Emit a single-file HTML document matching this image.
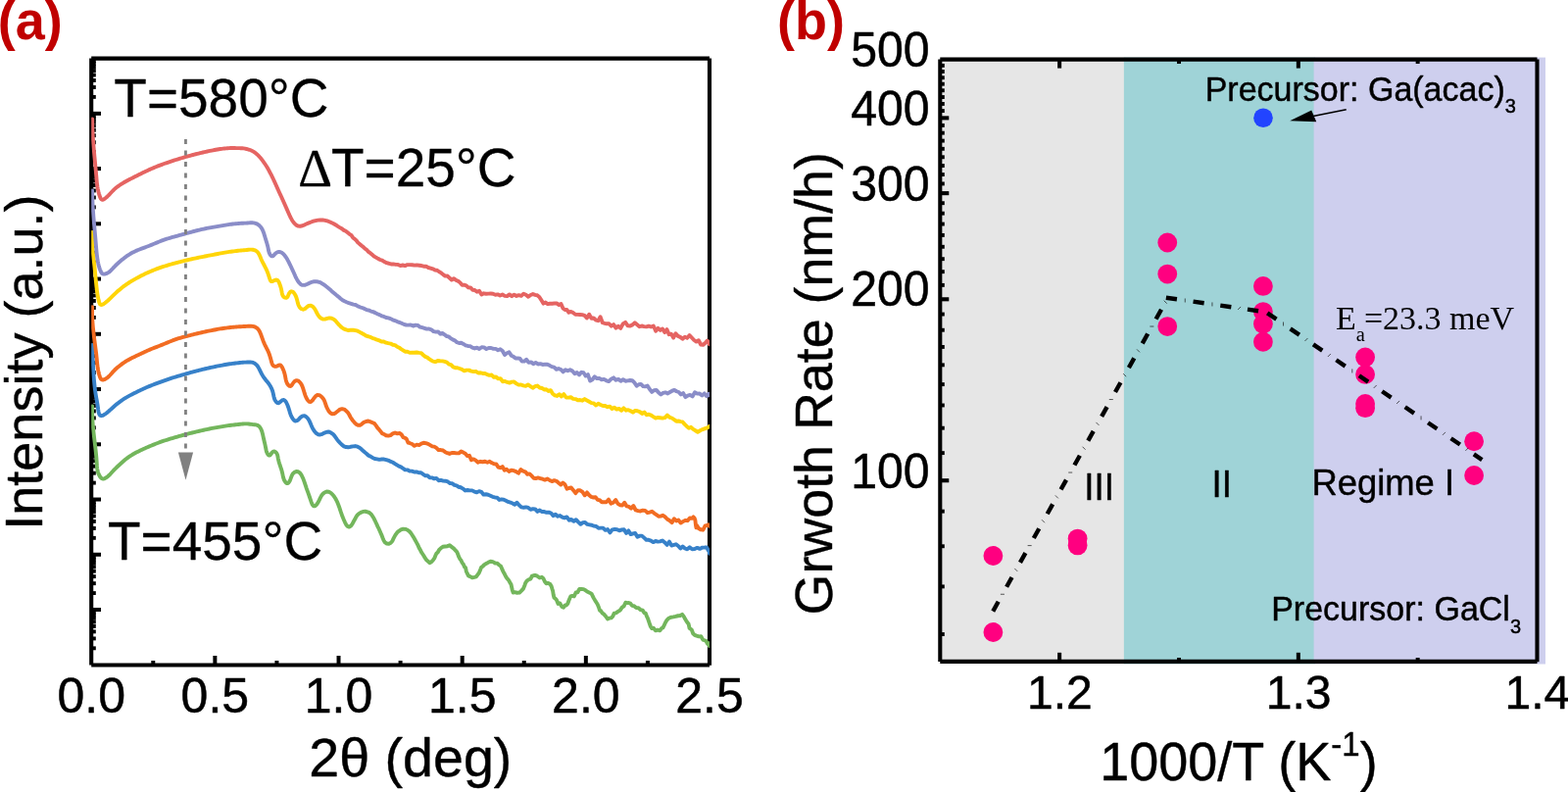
<!DOCTYPE html>
<html lang="en">
<head>
<meta charset="utf-8">
<title>Figure: XRR curves and growth rate</title>
<style>
html,body{margin:0;padding:0;background:#fff;}
body{width:1600px;height:808px;overflow:hidden;}
svg{display:block;}
</style>
</head>
<body>
<svg width="1600" height="808" viewBox="0 0 1600 808">
<rect x="0" y="0" width="1600" height="808" fill="#ffffff"/>
<g id="plot-a">
<path d="M93.2,59.6 H724 M93.2,678.5 H724 M93.2,59.6 V678.5 M724,59.6 V678.8" fill="none" stroke="#000" stroke-width="4.1"/>
<line x1="93.2" y1="661.32" x2="97.8" y2="661.32" stroke="#000" stroke-width="3.9" />
<line x1="93.2" y1="651.42" x2="97.8" y2="651.42" stroke="#000" stroke-width="3.9" />
<line x1="93.2" y1="644.39" x2="97.8" y2="644.39" stroke="#000" stroke-width="3.9" />
<line x1="93.2" y1="638.94" x2="97.8" y2="638.94" stroke="#000" stroke-width="3.9" />
<line x1="93.2" y1="634.49" x2="97.8" y2="634.49" stroke="#000" stroke-width="3.9" />
<line x1="93.2" y1="630.72" x2="97.8" y2="630.72" stroke="#000" stroke-width="3.9" />
<line x1="93.2" y1="627.46" x2="97.8" y2="627.46" stroke="#000" stroke-width="3.9" />
<line x1="93.2" y1="624.58" x2="97.8" y2="624.58" stroke="#000" stroke-width="3.9" />
<line x1="93.2" y1="622.01" x2="103" y2="622.01" stroke="#000" stroke-width="4" />
<line x1="93.2" y1="605.08" x2="97.8" y2="605.08" stroke="#000" stroke-width="3.9" />
<line x1="93.2" y1="595.18" x2="97.8" y2="595.18" stroke="#000" stroke-width="3.9" />
<line x1="93.2" y1="588.15" x2="97.8" y2="588.15" stroke="#000" stroke-width="3.9" />
<line x1="93.2" y1="582.7" x2="97.8" y2="582.7" stroke="#000" stroke-width="3.9" />
<line x1="93.2" y1="578.25" x2="97.8" y2="578.25" stroke="#000" stroke-width="3.9" />
<line x1="93.2" y1="574.48" x2="97.8" y2="574.48" stroke="#000" stroke-width="3.9" />
<line x1="93.2" y1="571.22" x2="97.8" y2="571.22" stroke="#000" stroke-width="3.9" />
<line x1="93.2" y1="568.34" x2="97.8" y2="568.34" stroke="#000" stroke-width="3.9" />
<line x1="93.2" y1="565.77" x2="103" y2="565.77" stroke="#000" stroke-width="4" />
<line x1="93.2" y1="548.84" x2="97.8" y2="548.84" stroke="#000" stroke-width="3.9" />
<line x1="93.2" y1="538.93" x2="97.8" y2="538.93" stroke="#000" stroke-width="3.9" />
<line x1="93.2" y1="531.91" x2="97.8" y2="531.91" stroke="#000" stroke-width="3.9" />
<line x1="93.2" y1="526.46" x2="97.8" y2="526.46" stroke="#000" stroke-width="3.9" />
<line x1="93.2" y1="522" x2="97.8" y2="522" stroke="#000" stroke-width="3.9" />
<line x1="93.2" y1="518.24" x2="97.8" y2="518.24" stroke="#000" stroke-width="3.9" />
<line x1="93.2" y1="514.98" x2="97.8" y2="514.98" stroke="#000" stroke-width="3.9" />
<line x1="93.2" y1="512.1" x2="97.8" y2="512.1" stroke="#000" stroke-width="3.9" />
<line x1="93.2" y1="509.53" x2="103" y2="509.53" stroke="#000" stroke-width="4" />
<line x1="93.2" y1="492.6" x2="97.8" y2="492.6" stroke="#000" stroke-width="3.9" />
<line x1="93.2" y1="482.69" x2="97.8" y2="482.69" stroke="#000" stroke-width="3.9" />
<line x1="93.2" y1="475.67" x2="97.8" y2="475.67" stroke="#000" stroke-width="3.9" />
<line x1="93.2" y1="470.22" x2="97.8" y2="470.22" stroke="#000" stroke-width="3.9" />
<line x1="93.2" y1="465.76" x2="97.8" y2="465.76" stroke="#000" stroke-width="3.9" />
<line x1="93.2" y1="462" x2="97.8" y2="462" stroke="#000" stroke-width="3.9" />
<line x1="93.2" y1="458.74" x2="97.8" y2="458.74" stroke="#000" stroke-width="3.9" />
<line x1="93.2" y1="455.86" x2="97.8" y2="455.86" stroke="#000" stroke-width="3.9" />
<line x1="93.2" y1="453.29" x2="103" y2="453.29" stroke="#000" stroke-width="4" />
<line x1="93.2" y1="436.36" x2="97.8" y2="436.36" stroke="#000" stroke-width="3.9" />
<line x1="93.2" y1="426.45" x2="97.8" y2="426.45" stroke="#000" stroke-width="3.9" />
<line x1="93.2" y1="419.43" x2="97.8" y2="419.43" stroke="#000" stroke-width="3.9" />
<line x1="93.2" y1="413.98" x2="97.8" y2="413.98" stroke="#000" stroke-width="3.9" />
<line x1="93.2" y1="409.52" x2="97.8" y2="409.52" stroke="#000" stroke-width="3.9" />
<line x1="93.2" y1="405.76" x2="97.8" y2="405.76" stroke="#000" stroke-width="3.9" />
<line x1="93.2" y1="402.5" x2="97.8" y2="402.5" stroke="#000" stroke-width="3.9" />
<line x1="93.2" y1="399.62" x2="97.8" y2="399.62" stroke="#000" stroke-width="3.9" />
<line x1="93.2" y1="397.05" x2="103" y2="397.05" stroke="#000" stroke-width="4" />
<line x1="93.2" y1="380.12" x2="97.8" y2="380.12" stroke="#000" stroke-width="3.9" />
<line x1="93.2" y1="370.21" x2="97.8" y2="370.21" stroke="#000" stroke-width="3.9" />
<line x1="93.2" y1="363.19" x2="97.8" y2="363.19" stroke="#000" stroke-width="3.9" />
<line x1="93.2" y1="357.73" x2="97.8" y2="357.73" stroke="#000" stroke-width="3.9" />
<line x1="93.2" y1="353.28" x2="97.8" y2="353.28" stroke="#000" stroke-width="3.9" />
<line x1="93.2" y1="349.52" x2="97.8" y2="349.52" stroke="#000" stroke-width="3.9" />
<line x1="93.2" y1="346.25" x2="97.8" y2="346.25" stroke="#000" stroke-width="3.9" />
<line x1="93.2" y1="343.38" x2="97.8" y2="343.38" stroke="#000" stroke-width="3.9" />
<line x1="93.2" y1="340.8" x2="103" y2="340.8" stroke="#000" stroke-width="4" />
<line x1="93.2" y1="323.87" x2="97.8" y2="323.87" stroke="#000" stroke-width="3.9" />
<line x1="93.2" y1="313.97" x2="97.8" y2="313.97" stroke="#000" stroke-width="3.9" />
<line x1="93.2" y1="306.94" x2="97.8" y2="306.94" stroke="#000" stroke-width="3.9" />
<line x1="93.2" y1="301.49" x2="97.8" y2="301.49" stroke="#000" stroke-width="3.9" />
<line x1="93.2" y1="297.04" x2="97.8" y2="297.04" stroke="#000" stroke-width="3.9" />
<line x1="93.2" y1="293.28" x2="97.8" y2="293.28" stroke="#000" stroke-width="3.9" />
<line x1="93.2" y1="290.01" x2="97.8" y2="290.01" stroke="#000" stroke-width="3.9" />
<line x1="93.2" y1="287.14" x2="97.8" y2="287.14" stroke="#000" stroke-width="3.9" />
<line x1="93.2" y1="284.56" x2="103" y2="284.56" stroke="#000" stroke-width="4" />
<line x1="93.2" y1="267.63" x2="97.8" y2="267.63" stroke="#000" stroke-width="3.9" />
<line x1="93.2" y1="257.73" x2="97.8" y2="257.73" stroke="#000" stroke-width="3.9" />
<line x1="93.2" y1="250.7" x2="97.8" y2="250.7" stroke="#000" stroke-width="3.9" />
<line x1="93.2" y1="245.25" x2="97.8" y2="245.25" stroke="#000" stroke-width="3.9" />
<line x1="93.2" y1="240.8" x2="97.8" y2="240.8" stroke="#000" stroke-width="3.9" />
<line x1="93.2" y1="237.03" x2="97.8" y2="237.03" stroke="#000" stroke-width="3.9" />
<line x1="93.2" y1="233.77" x2="97.8" y2="233.77" stroke="#000" stroke-width="3.9" />
<line x1="93.2" y1="230.9" x2="97.8" y2="230.9" stroke="#000" stroke-width="3.9" />
<line x1="93.2" y1="228.32" x2="103" y2="228.32" stroke="#000" stroke-width="4" />
<line x1="93.2" y1="211.39" x2="97.8" y2="211.39" stroke="#000" stroke-width="3.9" />
<line x1="93.2" y1="201.49" x2="97.8" y2="201.49" stroke="#000" stroke-width="3.9" />
<line x1="93.2" y1="194.46" x2="97.8" y2="194.46" stroke="#000" stroke-width="3.9" />
<line x1="93.2" y1="189.01" x2="97.8" y2="189.01" stroke="#000" stroke-width="3.9" />
<line x1="93.2" y1="184.56" x2="97.8" y2="184.56" stroke="#000" stroke-width="3.9" />
<line x1="93.2" y1="180.79" x2="97.8" y2="180.79" stroke="#000" stroke-width="3.9" />
<line x1="93.2" y1="177.53" x2="97.8" y2="177.53" stroke="#000" stroke-width="3.9" />
<line x1="93.2" y1="174.66" x2="97.8" y2="174.66" stroke="#000" stroke-width="3.9" />
<line x1="93.2" y1="172.08" x2="103" y2="172.08" stroke="#000" stroke-width="4" />
<line x1="93.2" y1="155.15" x2="97.8" y2="155.15" stroke="#000" stroke-width="3.9" />
<line x1="93.2" y1="145.25" x2="97.8" y2="145.25" stroke="#000" stroke-width="3.9" />
<line x1="93.2" y1="138.22" x2="97.8" y2="138.22" stroke="#000" stroke-width="3.9" />
<line x1="93.2" y1="132.77" x2="97.8" y2="132.77" stroke="#000" stroke-width="3.9" />
<line x1="93.2" y1="128.32" x2="97.8" y2="128.32" stroke="#000" stroke-width="3.9" />
<line x1="93.2" y1="124.55" x2="97.8" y2="124.55" stroke="#000" stroke-width="3.9" />
<line x1="93.2" y1="121.29" x2="97.8" y2="121.29" stroke="#000" stroke-width="3.9" />
<line x1="93.2" y1="118.41" x2="97.8" y2="118.41" stroke="#000" stroke-width="3.9" />
<line x1="93.2" y1="115.84" x2="103" y2="115.84" stroke="#000" stroke-width="4" />
<line x1="93.2" y1="98.91" x2="97.8" y2="98.91" stroke="#000" stroke-width="3.9" />
<line x1="93.2" y1="89.01" x2="97.8" y2="89.01" stroke="#000" stroke-width="3.9" />
<line x1="93.2" y1="81.98" x2="97.8" y2="81.98" stroke="#000" stroke-width="3.9" />
<line x1="93.2" y1="76.53" x2="97.8" y2="76.53" stroke="#000" stroke-width="3.9" />
<line x1="93.2" y1="72.08" x2="97.8" y2="72.08" stroke="#000" stroke-width="3.9" />
<line x1="93.2" y1="68.31" x2="97.8" y2="68.31" stroke="#000" stroke-width="3.9" />
<line x1="93.2" y1="65.05" x2="97.8" y2="65.05" stroke="#000" stroke-width="3.9" />
<line x1="93.2" y1="62.17" x2="97.8" y2="62.17" stroke="#000" stroke-width="3.9" />
<line x1="156.28" y1="678.25" x2="156.28" y2="674" stroke="#000" stroke-width="4" />
<line x1="219.36" y1="678.25" x2="219.36" y2="669" stroke="#000" stroke-width="4" />
<line x1="282.44" y1="678.25" x2="282.44" y2="674" stroke="#000" stroke-width="4" />
<line x1="345.52" y1="678.25" x2="345.52" y2="669" stroke="#000" stroke-width="4" />
<line x1="408.6" y1="678.25" x2="408.6" y2="674" stroke="#000" stroke-width="4" />
<line x1="471.68" y1="678.25" x2="471.68" y2="669" stroke="#000" stroke-width="4" />
<line x1="534.76" y1="678.25" x2="534.76" y2="674" stroke="#000" stroke-width="4" />
<line x1="597.84" y1="678.25" x2="597.84" y2="669" stroke="#000" stroke-width="4" />
<line x1="660.92" y1="678.25" x2="660.92" y2="674" stroke="#000" stroke-width="4" />
<clipPath id="clipA"><rect x="93.2" y="59.6" width="630.8" height="618.65"/></clipPath>
<g clip-path="url(#clipA)">
<path d="M94.2,414.5 L94.15,415.98 L94.11,417.47 L94.09,418.96 L94.09,420.45 L94.11,421.94 L94.14,423.44 L94.19,424.94 L94.26,426.44 L94.34,427.94 L94.43,429.45 L94.53,430.95 L94.65,432.46 L94.77,433.96 L94.91,435.47 L95.05,436.98 L95.2,438.49 L95.36,440 L95.52,441.5 L95.69,443.01 L95.87,444.52 L96.04,446.03 L96.22,447.53 L96.4,449.04 L96.58,450.54 L96.76,452.04 L96.94,453.54 L97.12,455.04 L97.29,456.54 L97.46,458.03 L97.63,459.52 L97.79,461.01 L97.94,462.49 L98.09,463.97 L98.23,465.45 L98.36,466.93 L98.48,468.4 L98.58,469.86 L98.68,471.33 L98.76,472.78 L98.85,474.24 L98.94,475.69 L99.07,477.15 L99.26,478.61 L99.53,480.07 L99.91,481.55 L100.41,483.04 L101.06,484.54 L101.88,486.01 L102.86,487.32 L103.98,488.24 L105.24,488.58 L106.57,488.29 L107.91,487.59 L109.18,486.7 L110.33,485.76 L111.38,484.79 L112.36,483.8 L113.3,482.79 L114.22,481.74 L115.17,480.69 L116.15,479.62 L117.17,478.56 L118.23,477.52 L119.3,476.49 L120.4,475.47 L121.5,474.45 L122.61,473.44 L123.71,472.44 L124.82,471.45 L125.93,470.48 L127.06,469.53 L128.2,468.6 L129.36,467.69 L130.55,466.81 L131.76,465.95 L133.01,465.12 L134.29,464.32 L135.59,463.54 L136.91,462.79 L138.24,462.06 L139.59,461.35 L140.94,460.66 L142.3,459.98 L143.66,459.33 L145.03,458.68 L146.4,458.05 L147.77,457.43 L149.14,456.82 L150.52,456.22 L151.9,455.63 L153.28,455.04 L154.66,454.46 L156.04,453.9 L157.43,453.34 L158.82,452.78 L160.21,452.24 L161.61,451.71 L163.01,451.2 L164.42,450.69 L165.83,450.19 L167.26,449.71 L168.69,449.24 L170.12,448.78 L171.56,448.32 L173,447.88 L174.44,447.44 L175.88,447.01 L177.32,446.59 L178.77,446.17 L180.21,445.76 L181.65,445.35 L183.09,444.94 L184.54,444.54 L185.98,444.14 L187.43,443.75 L188.87,443.36 L190.32,442.98 L191.77,442.6 L193.23,442.22 L194.68,441.85 L196.14,441.49 L197.59,441.13 L199.05,440.77 L200.51,440.42 L201.97,440.08 L203.43,439.74 L204.89,439.4 L206.36,439.07 L207.82,438.75 L209.28,438.43 L210.75,438.11 L212.22,437.8 L213.69,437.5 L215.16,437.2 L216.63,436.91 L218.1,436.63 L219.58,436.35 L221.05,436.08 L222.53,435.82 L224.01,435.57 L225.49,435.32 L226.96,435.08 L228.44,434.84 L229.92,434.61 L231.41,434.39 L232.89,434.18 L234.37,433.98 L235.86,433.79 L237.35,433.61 L238.84,433.44 L240.34,433.28 L241.83,433.13 L243.34,432.96 L244.84,432.78 L246.34,432.6 L247.84,432.44 L249.34,432.34 L250.83,432.34 L252.31,432.4 L253.79,432.53 L255.27,432.69 L256.76,432.89 L258.26,433.1 L259.77,433.24 L261.24,433.41 L262.61,433.77 L263.8,434.44 L264.82,435.42 L265.68,436.61 L266.39,437.94 L266.97,439.32 L267.44,440.73 L267.84,442.17 L268.18,443.62 L268.5,445.07 L268.82,446.54 L269.15,448 L269.49,449.47 L269.83,450.94 L270.18,452.41 L270.51,453.88 L270.82,455.34 L271.11,456.79 L271.38,458.24 L271.68,459.67 L272.08,461.1 L272.68,462.51 L273.54,463.82 L274.6,464.59 L275.66,464.28 L276.64,463.05 L277.62,461.61 L278.72,460.65 L279.98,460.51 L281.24,461.15 L282.25,462.26 L282.91,463.59 L283.32,465.05 L283.6,466.57 L283.88,468.1 L284.2,469.6 L284.58,471.08 L285.01,472.53 L285.47,473.96 L285.94,475.37 L286.42,476.79 L286.89,478.2 L287.33,479.61 L287.73,481.04 L288.08,482.48 L288.38,483.95 L288.67,485.41 L288.99,486.88 L289.4,488.32 L289.96,489.72 L290.71,491.08 L291.67,492.29 L292.76,493.05 L293.82,493 L294.78,492.12 L295.63,490.65 L296.37,488.9 L297.04,487.12 L297.67,485.51 L298.33,484.12 L299.12,482.93 L300.35,481.85 L302.25,481.05 L304.37,481.2 L306.17,482.58 L307.6,484.71 L308.76,487.04 L309.73,489.36 L310.57,491.64 L311.31,493.84 L312.01,495.97 L312.71,498.1 L313.43,500.12 L314.18,502.21 L314.98,504.4 L315.81,506.76 L316.7,509.4 L317.64,512.18 L318.7,514.68 L319.95,516.22 L321.43,516.25 L323.02,514.83 L324.54,512.63 L325.8,510.14 L326.87,507.89 L327.95,505.81 L329.31,504.08 L331.11,502.49 L333.28,501.56 L335.52,501.74 L337.6,502.91 L339.42,504.65 L340.97,506.57 L342.27,508.52 L343.39,510.68 L344.38,512.68 L345.29,514.95 L346.13,517.2 L346.92,519.6 L347.68,521.93 L348.44,524.07 L349.2,526.26 L350.02,528.33 L350.93,530.48 L351.97,532.76 L353.2,535.2 L354.64,537.02 L356.28,537.62 L358.01,536.57 L359.62,534.33 L360.97,531.77 L362.11,529.76 L363.22,527.54 L364.5,525.73 L366.12,524.11 L368.12,522.89 L370.39,521.93 L372.77,521.75 L375.07,522.37 L377.12,523.17 L378.87,524.68 L380.36,527.09 L381.63,529.05 L382.73,531.27 L383.72,533.45 L384.67,535.43 L385.62,537.62 L386.6,539.39 L387.59,541.76 L388.57,543.99 L389.54,546.14 L390.49,548.74 L391.54,551.3 L392.86,553.43 L394.63,554.53 L396.77,554.87 L398.8,553.77 L400.36,552.04 L401.52,549.39 L402.58,547.38 L403.77,545.35 L405.22,543.32 L406.99,541.82 L409.09,540.39 L411.39,539.61 L413.71,539.82 L415.87,540.71 L417.77,542.11 L419.4,544 L420.81,546.21 L422.06,548.13 L423.24,550.3 L424.39,552.38 L425.52,554.41 L426.63,556.45 L427.73,559.16 L428.81,560.83 L429.88,563.08 L430.96,564.73 L432.11,566.52 L433.4,568.62 L434.91,570.96 L436.65,572.6 L438.47,574.15 L440.23,573.29 L441.81,571.45 L443.18,569.68 L444.38,566.67 L445.5,564.44 L446.69,563.45 L448.09,560.96 L449.81,559.28 L451.85,557.8 L454.12,557.5 L456.5,557.2 L458.86,556.33 L461.09,558.12 L463.08,559.65 L464.74,561.5 L466.09,562.79 L467.22,565.37 L468.25,568.22 L469.28,570.2 L470.4,571.52 L471.63,574.1 L472.89,575.73 L474.05,578.44 L475.04,579.16 L475.86,582.98 L476.72,584.99 L477.92,587.37 L479.68,588.09 L481.87,589.37 L484.05,588.91 L485.9,588.4 L487.39,586.33 L488.67,584.81 L489.87,582.06 L491.13,578.67 L492.52,577.91 L494.15,576.09 L496.04,575.03 L498.17,573.84 L500.48,572.73 L502.86,573.16 L505.22,574.53 L507.43,574.67 L509.41,576.5 L511.05,577.59 L512.34,580.67 L513.35,582.88 L514.24,584.59 L515.2,586.27 L516.37,588.55 L517.79,590.57 L519.29,592.34 L520.6,594.73 L521.53,596.25 L522.13,599.05 L522.71,601.76 L523.67,604.56 L525.31,604.2 L527.58,604.76 L530.09,604.58 L532.34,602.38 L533.95,600.63 L534.86,598.46 L535.43,597.26 L536.15,594.82 L537.48,592.78 L539.45,591.24 L541.41,590.58 L542.88,587.64 L544.2,587.25 L545.96,586.83 L548.23,587.69 L550.66,589.5 L552.83,588.82 L554.49,590.24 L555.86,593.22 L557.49,595.29 L559.51,594.94 L561.38,595.98 L562.69,598.32 L563.52,601.17 L564.11,602.89 L564.69,606.68 L565.45,609.86 L566.51,610.44 L567.88,612.08 L569.51,615.91 L571.34,615.45 L573.25,618.9 L575.07,619.69 L576.66,617.47 L578.04,617.45 L579.34,615.72 L580.71,611.95 L582.26,608.46 L583.99,607.9 L585.82,608.41 L587.62,604.53 L589.39,604.3 L591.22,601.07 L593.26,601.04 L595.53,601.17 L597.89,602.52 L600.15,604.01 L602.11,604.91 L603.68,605.83 L604.93,608.5 L606.06,610.62 L607.23,612.6 L608.47,614.54 L609.7,616.46 L610.86,619.24 L611.97,622.77 L613.13,623.14 L614.43,625.28 L615.99,626.36 L617.86,628.44 L619.98,631.51 L622.02,630.59 L623.75,630.39 L625.22,628.88 L626.72,625.66 L628.51,625.37 L630.6,623.92 L632.76,622.55 L634.78,619.63 L636.63,618.33 L638.34,614.76 L639.97,615.11 L641.59,614.99 L643.25,615.57 L645.03,617.92 L647,618.25 L649.19,620.09 L651.51,620.26 L653.75,622.17 L655.76,622.67 L657.44,625.27 L658.82,625.7 L659.99,628.91 L661,630.87 L661.93,633.58 L662.86,636.36 L663.9,639.26 L665.18,641.13 L666.85,640.68 L668.95,643.37 L671.22,642.66 L673.3,643.31 L674.98,641.04 L676.35,640.49 L677.61,638.05 L678.94,635.25 L680.53,632.58 L682.44,630.71 L684.64,629.7 L687.01,629.38 L689.45,628.9 L691.84,628.25 L694.08,627.96 L696.07,626.85 L697.74,628.87 L699.15,631.59 L700.37,633.55 L701.49,635.21 L702.55,636.41 L703.59,640.95 L704.67,641.63 L705.83,642.59 L707.18,646.25 L708.83,647.84 L710.86,648.6 L713.13,649.34 L715.33,649.26 L717.23,652.62 L718.86,653.28 L720.4,653.82 L722.02,656.96 L723.39,656.29 L724,659" fill="none" stroke="#73b65c" stroke-width="3.9" stroke-linejoin="round" stroke-linecap="round"/>
<path d="M94.2,352 L94.25,353.4 L94.3,354.82 L94.35,356.25 L94.4,357.71 L94.45,359.17 L94.5,360.66 L94.55,362.15 L94.61,363.66 L94.67,365.18 L94.73,366.71 L94.79,368.25 L94.85,369.8 L94.92,371.35 L95,372.9 L95.07,374.46 L95.16,376.02 L95.24,377.59 L95.33,379.15 L95.43,380.71 L95.53,382.26 L95.64,383.82 L95.76,385.36 L95.88,386.9 L96.01,388.44 L96.15,389.96 L96.29,391.47 L96.44,392.97 L96.61,394.46 L96.78,395.93 L96.95,397.39 L97.14,398.83 L97.34,400.25 L97.55,401.66 L97.77,403.04 L98,404.4 L98.24,405.74 L98.49,407.07 L98.74,408.42 L99,409.8 L99.25,411.25 L99.51,412.78 L99.75,414.42 L99.99,416.19 L100.23,418.06 L100.52,419.92 L100.91,421.63 L101.48,423.02 L102.27,423.93 L103.34,424.23 L104.64,423.91 L106.03,423.19 L107.36,422.33 L108.58,421.47 L109.69,420.6 L110.74,419.72 L111.76,418.81 L112.78,417.9 L113.83,416.96 L114.9,416 L115.99,415.01 L117.1,414.02 L118.23,413.06 L119.37,412.12 L120.52,411.22 L121.68,410.33 L122.86,409.45 L124.06,408.58 L125.29,407.73 L126.53,406.91 L127.81,406.11 L129.11,405.33 L130.43,404.58 L131.77,403.85 L133.12,403.13 L134.48,402.43 L135.84,401.74 L137.2,401.06 L138.55,400.39 L139.89,399.72 L141.22,399.07 L142.56,398.42 L143.89,397.78 L145.24,397.15 L146.59,396.53 L147.96,395.92 L149.33,395.32 L150.72,394.73 L152.11,394.16 L153.51,393.59 L154.92,393.03 L156.32,392.48 L157.73,391.93 L159.14,391.39 L160.54,390.86 L161.95,390.34 L163.35,389.82 L164.75,389.3 L166.16,388.8 L167.57,388.3 L168.98,387.8 L170.39,387.32 L171.81,386.84 L173.24,386.37 L174.66,385.9 L176.1,385.45 L177.53,385 L178.97,384.56 L180.41,384.13 L181.85,383.7 L183.29,383.27 L184.74,382.85 L186.18,382.43 L187.63,382.01 L189.07,381.6 L190.51,381.19 L191.95,380.78 L193.39,380.37 L194.84,379.97 L196.28,379.57 L197.72,379.17 L199.16,378.78 L200.61,378.4 L202.06,378.02 L203.51,377.65 L204.97,377.28 L206.42,376.92 L207.88,376.57 L209.35,376.23 L210.81,375.89 L212.27,375.56 L213.74,375.24 L215.21,374.92 L216.67,374.61 L218.14,374.3 L219.61,374 L221.08,373.7 L222.55,373.41 L224.02,373.12 L225.5,372.84 L226.97,372.56 L228.45,372.29 L229.93,372.03 L231.41,371.77 L232.89,371.53 L234.37,371.3 L235.85,371.08 L237.33,370.88 L238.81,370.7 L240.28,370.53 L241.76,370.37 L243.23,370.2 L244.71,370.05 L246.2,369.9 L247.69,369.77 L249.2,369.66 L250.72,369.58 L252.26,369.51 L253.81,369.46 L255.35,369.48 L256.85,369.63 L258.27,369.98 L259.59,370.55 L260.78,371.34 L261.83,372.31 L262.74,373.41 L263.53,374.59 L264.22,375.83 L264.86,377.12 L265.47,378.42 L266.09,379.72 L266.76,381.01 L267.48,382.29 L268.26,383.57 L269.09,384.83 L269.97,386.05 L270.88,387.24 L271.82,388.41 L272.77,389.57 L273.7,390.75 L274.6,391.95 L275.43,393.21 L276.2,394.51 L276.88,395.86 L277.49,397.25 L278.01,398.67 L278.44,400.1 L278.79,401.54 L279.08,402.98 L279.36,404.41 L279.71,405.85 L280.2,407.28 L280.89,408.71 L281.84,410.04 L282.96,411 L284.13,411.2 L285.3,410.55 L286.5,409.45 L287.79,408.44 L289.1,407.98 L290.3,408.3 L291.34,409.33 L292.22,410.75 L292.95,412.28 L293.58,413.77 L294.11,415.2 L294.58,416.59 L295,417.96 L295.4,419.31 L295.8,420.67 L296.24,422.04 L296.74,423.41 L297.34,424.78 L298.07,426.13 L298.96,427.47 L300.02,428.69 L301.38,429.48 L303.09,429.2 L304.94,427.66 L306.81,425.69 L308.76,424.37 L310.79,424.27 L312.75,425.44 L314.41,427.34 L315.66,429.4 L316.64,431.58 L317.53,433.74 L318.48,435.89 L319.6,438.03 L320.95,440.09 L322.57,441.95 L324.47,443.2 L326.62,443.46 L328.91,442.78 L331.2,441.6 L333.43,440.7 L335.67,440.49 L337.83,441.52 L339.74,442.81 L341.34,444.63 L342.76,446.63 L344.15,448.59 L345.63,450.45 L347.25,452.15 L349.02,453.89 L350.97,455.31 L353.1,456.04 L355.38,456.31 L357.77,455.78 L360.19,455.36 L362.56,455.06 L364.8,455.68 L366.88,456.77 L368.81,458.34 L370.62,460.04 L372.39,461.58 L374.17,463 L376.05,464.75 L378.05,465.65 L380.17,466.95 L382.41,468 L384.74,468.34 L387.13,468.82 L389.54,468.51 L391.94,468.57 L394.29,469.1 L396.57,469.82 L398.77,470.94 L400.9,471.76 L402.98,473.07 L405.03,474.41 L407.06,475.65 L409.11,476.4 L411.2,477.8 L413.37,479.42 L415.61,479.35 L417.93,480.52 L420.3,480.62 L422.68,481.52 L425.04,481.38 L427.36,482.28 L429.63,482.28 L431.86,483.89 L434.07,485.28 L436.27,485.24 L438.49,487.25 L440.73,487.34 L443,488.39 L445.29,487.92 L447.61,490.2 L449.95,489.91 L452.3,490.57 L454.66,490.74 L456.99,491.44 L459.28,493.15 L461.51,493.2 L463.69,494.9 L465.85,495.43 L468.01,496.75 L470.2,497.27 L472.44,498.59 L474.73,500.46 L477.06,499.99 L479.41,500.42 L481.78,500.34 L484.15,501.67 L486.51,502.39 L488.85,501.1 L491.19,501.86 L493.51,504.63 L495.82,504.25 L498.12,504.75 L500.4,505.76 L502.68,506.87 L504.95,507.46 L507.21,507.58 L509.47,509.98 L511.72,509.41 L513.97,509.64 L516.21,510.73 L518.46,511.9 L520.71,512.57 L522.96,513.54 L525.22,514.73 L527.49,512.75 L529.77,515.4 L532.07,517.44 L534.38,517.77 L536.7,517.34 L539.04,517.9 L541.4,519.84 L543.75,519.16 L546.11,519.38 L548.46,521.92 L550.8,520.53 L553.13,522.03 L555.44,522.03 L557.74,522.81 L560.02,522.62 L562.31,523.47 L564.59,526.17 L566.87,524.68 L569.15,526.75 L571.45,526.03 L573.75,527.6 L576.07,528.4 L578.4,527.38 L580.74,530.7 L583.08,529.89 L585.42,531.86 L587.76,530.17 L590.1,532.66 L592.42,534.78 L594.74,533.16 L597.05,532.92 L599.34,534.9 L601.62,535.33 L603.89,535.77 L606.16,536.69 L608.43,536.98 L610.72,538.82 L613.01,538.58 L615.33,538.62 L617.68,540.89 L620.05,540.1 L622.44,543.38 L624.85,540.31 L627.26,539.88 L629.67,540.17 L632.06,541.35 L634.43,540.44 L636.78,540.21 L639.1,543.92 L641.39,541.39 L643.67,545.14 L645.93,544.43 L648.19,543.95 L650.44,547.83 L652.7,546.65 L654.96,546.63 L657.24,548.64 L659.53,550.75 L661.85,550.78 L664.18,551.56 L666.53,553.14 L668.89,551.96 L671.26,552.61 L673.62,552.4 L675.98,551.5 L678.34,553.4 L680.67,555.81 L682.99,552.63 L685.29,556.56 L687.56,555.97 L689.82,555.3 L692.07,557.01 L694.34,559.5 L696.62,557.49 L698.94,559.49 L701.31,560.28 L703.74,558.36 L706.24,560.2 L708.82,560.1 L711.47,558.84 L714.14,559.89 L716.72,558.61 L719.08,558.5 L721.09,558.35 L722.63,561.34 L723.58,562.47 L723.95,564.39 L724,564.74" fill="none" stroke="#3781c9" stroke-width="3.9" stroke-linejoin="round" stroke-linecap="round"/>
<path d="M94.2,313.25 L94.13,314.69 L94.09,316.14 L94.06,317.6 L94.05,319.08 L94.06,320.56 L94.09,322.05 L94.14,323.55 L94.21,325.05 L94.29,326.56 L94.38,328.08 L94.49,329.6 L94.62,331.13 L94.75,332.66 L94.89,334.19 L95.05,335.72 L95.21,337.26 L95.38,338.79 L95.56,340.32 L95.74,341.86 L95.93,343.39 L96.12,344.91 L96.32,346.44 L96.51,347.96 L96.71,349.47 L96.91,350.98 L97.11,352.48 L97.3,353.97 L97.49,355.46 L97.68,356.93 L97.87,358.4 L98.05,359.86 L98.22,361.3 L98.38,362.73 L98.53,364.15 L98.68,365.56 L98.82,366.95 L98.94,368.34 L99.08,369.72 L99.21,371.11 L99.37,372.51 L99.55,373.94 L99.75,375.4 L100,376.9 L100.3,378.45 L100.65,380.06 L101.06,381.73 L101.55,383.45 L102.14,385.09 L102.9,386.46 L103.85,387.35 L105.04,387.59 L106.4,387.21 L107.8,386.48 L109.1,385.63 L110.26,384.72 L111.31,383.76 L112.28,382.76 L113.19,381.74 L114.1,380.68 L115.02,379.62 L115.98,378.56 L117,377.52 L118.05,376.51 L119.15,375.54 L120.27,374.59 L121.43,373.66 L122.6,372.74 L123.8,371.83 L125.01,370.94 L126.23,370.08 L127.47,369.25 L128.73,368.45 L130.01,367.68 L131.32,366.94 L132.66,366.22 L134.02,365.52 L135.41,364.84 L136.8,364.17 L138.2,363.51 L139.58,362.86 L140.95,362.21 L142.31,361.57 L143.64,360.93 L144.97,360.29 L146.29,359.65 L147.62,359.02 L148.95,358.4 L150.29,357.79 L151.64,357.19 L153.02,356.6 L154.41,356.03 L155.82,355.46 L157.24,354.91 L158.67,354.36 L160.1,353.81 L161.53,353.27 L162.95,352.72 L164.36,352.17 L165.76,351.62 L167.13,351.06 L168.5,350.49 L169.86,349.92 L171.21,349.36 L172.57,348.79 L173.93,348.24 L175.29,347.69 L176.67,347.16 L178.07,346.64 L179.48,346.15 L180.9,345.67 L182.34,345.21 L183.79,344.77 L185.25,344.34 L186.71,343.93 L188.17,343.54 L189.63,343.15 L191.09,342.77 L192.55,342.4 L194.01,342.03 L195.46,341.67 L196.91,341.31 L198.37,340.95 L199.82,340.6 L201.28,340.25 L202.74,339.91 L204.19,339.57 L205.66,339.23 L207.12,338.9 L208.58,338.58 L210.05,338.26 L211.52,337.95 L212.98,337.64 L214.45,337.34 L215.92,337.05 L217.4,336.77 L218.87,336.49 L220.34,336.22 L221.82,335.95 L223.3,335.7 L224.77,335.45 L226.26,335.22 L227.74,334.99 L229.23,334.78 L230.71,334.57 L232.2,334.38 L233.69,334.2 L235.19,334.04 L236.68,333.88 L238.17,333.74 L239.65,333.62 L241.14,333.5 L242.63,333.39 L244.12,333.28 L245.61,333.19 L247.1,333.11 L248.6,333.02 L250.11,332.94 L251.63,332.85 L253.15,332.76 L254.68,332.68 L256.19,332.69 L257.67,332.84 L259.11,333.18 L260.46,333.69 L261.71,334.39 L262.8,335.27 L263.73,336.32 L264.52,337.49 L265.19,338.77 L265.77,340.12 L266.31,341.5 L266.82,342.89 L267.31,344.29 L267.81,345.7 L268.32,347.1 L268.85,348.5 L269.41,349.88 L270.02,351.25 L270.67,352.61 L271.35,353.96 L272.04,355.3 L272.73,356.63 L273.38,357.97 L273.98,359.31 L274.52,360.66 L275.01,362.03 L275.46,363.43 L275.88,364.86 L276.28,366.34 L276.68,367.86 L277.09,369.42 L277.58,370.95 L278.26,372.3 L279.24,373.31 L280.55,373.83 L282.04,373.73 L283.49,373.1 L284.8,372.42 L285.95,372.36 L286.97,373.18 L287.86,374.59 L288.62,376.17 L289.26,377.69 L289.8,379.15 L290.24,380.55 L290.61,381.92 L290.92,383.29 L291.18,384.66 L291.43,386.07 L291.71,387.49 L292.08,388.93 L292.6,390.36 L293.34,391.77 L294.31,393.05 L295.43,393.91 L296.52,393.96 L297.52,393.14 L298.49,391.77 L299.51,390.25 L300.82,388.85 L302.61,388.08 L304.58,388.6 L306.31,390.29 L307.68,392.39 L308.68,394.65 L309.44,396.88 L310.09,399.06 L310.74,401.24 L311.5,403.49 L312.48,405.69 L313.76,407.98 L315.35,409.72 L317.07,410 L318.79,408.52 L320.43,406.2 L322.07,404.11 L323.86,402.98 L325.88,403.09 L327.89,404.51 L329.53,406.33 L330.75,408.37 L331.66,410.55 L332.43,412.9 L333.22,415.19 L334.18,417.05 L335.42,419.36 L337.04,421.2 L338.94,422.28 L340.95,422.1 L342.94,420.76 L344.93,419.25 L346.96,417.66 L349.09,417.13 L351.27,417.58 L353.29,419.29 L354.97,420.86 L356.3,423.01 L357.45,425.25 L358.61,427.16 L359.93,428.99 L361.5,430.84 L363.32,432.78 L365.31,433.77 L367.31,433.79 L369.27,432.58 L371.31,430.84 L373.51,429.96 L375.82,429.54 L378.12,430.41 L380.27,431.31 L382.17,432.13 L383.83,434.31 L385.33,436.6 L386.76,438.13 L388.24,439.95 L389.88,442.17 L391.81,442.94 L393.98,444.3 L396.24,444.66 L398.47,444.14 L400.73,442.42 L403.1,441.51 L405.49,442.37 L407.73,441.89 L409.71,443.38 L411.47,446.17 L413.11,446.74 L414.75,447.73 L416.49,451.67 L418.43,452.24 L420.58,453.01 L422.89,454.89 L425.26,453.62 L427.63,454.08 L429.96,452.62 L432.25,451.77 L434.56,452.12 L436.84,452.84 L439,454.16 L441.05,455.38 L443.1,455.57 L445.24,456.89 L447.46,459.09 L449.74,459.05 L452.02,459.48 L454.27,461.16 L456.5,462.16 L458.73,462.94 L461.03,462.04 L463.41,462.01 L465.82,462.4 L468.2,462.35 L470.5,460.53 L472.7,461.62 L474.82,462.8 L476.89,465.1 L478.95,464.83 L481.05,469.34 L483.22,468.34 L485.46,469.68 L487.78,471.73 L490.15,470.8 L492.55,471.26 L494.95,470.74 L497.34,471.69 L499.69,470.74 L501.97,472.32 L504.19,473.31 L506.34,473.39 L508.45,476.57 L510.55,477.26 L512.67,476.08 L514.82,479.83 L517.04,478.82 L519.34,480.92 L521.71,479.67 L524.14,480.21 L526.58,481.05 L529.03,482.78 L531.43,478.99 L533.78,480.65 L536.04,481.28 L538.23,483.88 L540.36,483.4 L542.47,485.4 L544.59,487.71 L546.75,488.08 L548.99,487.45 L551.29,488.06 L553.65,488.71 L556.05,489.59 L558.46,488.54 L560.87,489.89 L563.25,491.09 L565.59,490.15 L567.87,490.79 L570.09,492.7 L572.25,494.46 L574.36,492.57 L576.47,494.26 L578.57,498.75 L580.69,498.01 L582.85,497.46 L585.07,500.16 L587.35,503.09 L589.68,500.32 L592.04,500.27 L594.4,501.85 L596.74,505.3 L599.04,502.42 L601.27,505.18 L603.43,506.98 L605.56,507.51 L607.66,507.18 L609.77,509.94 L611.91,510.24 L614.11,512.18 L616.37,512.2 L618.7,512.28 L621.08,509.63 L623.48,513.71 L625.88,512.8 L628.25,510.08 L630.57,513.9 L632.84,515.22 L635.06,515.47 L637.26,512.73 L639.47,516.43 L641.71,516.9 L644,518.62 L646.33,515.97 L648.7,520.47 L651.1,521.16 L653.51,521.45 L655.91,520.68 L658.29,520.88 L660.65,523 L662.96,522.58 L665.24,521.76 L667.5,523.6 L669.74,525.03 L671.98,526.75 L674.21,526.61 L676.46,525.73 L678.72,527.4 L681,529.77 L683.29,531.07 L685.58,533.19 L687.87,529.28 L690.14,531.44 L692.38,530.57 L694.62,533.49 L696.87,532.17 L699.2,530.81 L701.6,531.19 L703.9,528.36 L705.9,528.84 L707.48,527.32 L708.64,528.5 L709.42,530.85 L709.94,535.58 L710.46,538.37 L711.31,536.39 L712.81,538.99 L714.96,540.29 L717.36,540.69 L719.56,536.31 L721.42,536.01 L722.89,535.28 L724,536.79" fill="none" stroke="#f26c22" stroke-width="3.9" stroke-linejoin="round" stroke-linecap="round"/>
<path d="M94.2,237 L94.11,238.56 L94.04,240.1 L94,241.64 L93.99,243.16 L93.99,244.67 L94.03,246.18 L94.08,247.67 L94.15,249.16 L94.24,250.65 L94.34,252.12 L94.46,253.6 L94.59,255.07 L94.73,256.55 L94.89,258.02 L95.04,259.49 L95.21,260.97 L95.38,262.44 L95.55,263.93 L95.73,265.41 L95.9,266.91 L96.07,268.41 L96.24,269.92 L96.4,271.44 L96.56,272.96 L96.71,274.49 L96.87,276.03 L97.01,277.56 L97.16,279.09 L97.3,280.62 L97.44,282.15 L97.59,283.66 L97.73,285.17 L97.87,286.67 L98.02,288.15 L98.16,289.61 L98.31,291.06 L98.46,292.48 L98.62,293.88 L98.78,295.26 L98.95,296.62 L99.14,297.98 L99.34,299.37 L99.56,300.79 L99.82,302.29 L100.12,303.87 L100.46,305.56 L100.87,307.32 L101.38,309.01 L102.08,310.33 L103.03,310.99 L104.24,310.88 L105.6,310.17 L106.93,309.21 L108.16,308.26 L109.27,307.35 L110.31,306.44 L111.3,305.54 L112.28,304.61 L113.26,303.67 L114.26,302.68 L115.29,301.67 L116.33,300.62 L117.4,299.57 L118.48,298.56 L119.59,297.56 L120.71,296.59 L121.84,295.64 L122.99,294.69 L124.16,293.74 L125.34,292.82 L126.54,291.92 L127.75,291.03 L128.98,290.17 L130.22,289.33 L131.48,288.5 L132.76,287.7 L134.05,286.91 L135.35,286.14 L136.66,285.38 L137.97,284.64 L139.29,283.91 L140.61,283.19 L141.94,282.48 L143.27,281.79 L144.6,281.1 L145.93,280.43 L147.28,279.77 L148.62,279.12 L149.97,278.49 L151.34,277.87 L152.7,277.26 L154.08,276.67 L155.46,276.09 L156.86,275.53 L158.26,274.98 L159.66,274.44 L161.07,273.92 L162.49,273.41 L163.91,272.92 L165.33,272.43 L166.76,271.96 L168.19,271.5 L169.62,271.05 L171.06,270.61 L172.49,270.18 L173.94,269.75 L175.38,269.34 L176.82,268.93 L178.27,268.54 L179.72,268.15 L181.17,267.76 L182.62,267.39 L184.08,267.02 L185.53,266.65 L186.99,266.3 L188.45,265.95 L189.91,265.6 L191.37,265.26 L192.84,264.93 L194.3,264.6 L195.77,264.28 L197.23,263.95 L198.7,263.64 L200.17,263.32 L201.64,263.01 L203.11,262.71 L204.58,262.4 L206.05,262.1 L207.52,261.81 L208.99,261.51 L210.46,261.22 L211.93,260.93 L213.4,260.65 L214.87,260.36 L216.35,260.08 L217.82,259.8 L219.29,259.52 L220.77,259.25 L222.24,258.98 L223.72,258.7 L225.2,258.44 L226.67,258.17 L228.15,257.91 L229.63,257.65 L231.11,257.41 L232.59,257.17 L234.07,256.94 L235.55,256.72 L237.03,256.51 L238.51,256.31 L239.99,256.14 L241.47,255.96 L242.95,255.79 L244.43,255.63 L245.92,255.5 L247.41,255.37 L248.91,255.24 L250.42,255.11 L251.94,254.96 L253.47,254.79 L254.99,254.64 L256.5,254.59 L257.98,254.73 L259.4,255.07 L260.74,255.62 L261.94,256.38 L262.96,257.33 L263.8,258.44 L264.5,259.67 L265.1,260.98 L265.66,262.34 L266.22,263.73 L266.83,265.1 L267.48,266.47 L268.16,267.83 L268.86,269.18 L269.56,270.5 L270.25,271.81 L270.91,273.09 L271.53,274.35 L272.11,275.61 L272.65,276.89 L273.16,278.21 L273.66,279.6 L274.16,281.08 L274.67,282.69 L275.21,284.38 L275.84,285.94 L276.66,286.96 L277.75,287.1 L279.1,286.54 L280.58,285.82 L282.02,285.51 L283.24,285.91 L284.16,286.99 L284.86,288.45 L285.45,289.97 L285.96,291.43 L286.41,292.84 L286.8,294.23 L287.14,295.65 L287.43,297.13 L287.69,298.68 L288.02,300.23 L288.55,301.66 L289.41,302.85 L290.65,303.65 L292.01,303.86 L293.11,303.35 L293.82,302.2 L294.38,300.67 L295.08,299.1 L296.08,297.84 L297.31,297.27 L298.58,297.58 L299.75,298.56 L300.83,300.04 L301.84,302.01 L302.66,304.25 L303.26,306.55 L303.82,308.89 L304.53,311.19 L305.64,313.33 L307.34,315.02 L309.38,315.77 L311.26,315.01 L313.01,313.37 L315,311.92 L317.16,311.6 L319.13,312.66 L320.71,314.51 L321.97,316.6 L323.07,318.75 L324.19,320.91 L325.55,322.78 L327.27,324.5 L329.31,325.52 L331.52,325.58 L333.82,324.84 L336.19,324.37 L338.5,324.74 L340.57,325.67 L342.37,327.24 L344,329.15 L345.6,331.1 L347.25,332.73 L349.05,334.42 L351.06,335.61 L353.27,336.42 L355.63,337.03 L358.04,336.61 L360.44,336.78 L362.76,337.14 L364.98,337.7 L367.13,338.89 L369.25,340.04 L371.41,341.17 L373.6,342.69 L375.83,343.23 L378.07,343.96 L380.31,345.06 L382.55,345.64 L384.8,346.7 L387.06,347.4 L389.33,348.43 L391.62,348.49 L393.92,349.64 L396.22,350.17 L398.54,350.55 L400.84,351.79 L403.11,352.12 L405.3,353.73 L407.35,354.66 L409.31,356.08 L411.29,357.29 L413.38,358.71 L415.63,358.79 L417.99,359.83 L420.4,359.7 L422.8,359.77 L425.18,359.49 L427.52,359.92 L429.78,360.16 L431.93,362.25 L433.96,363.89 L435.88,364.58 L437.79,366.15 L439.78,367.47 L441.91,368.6 L444.21,369.16 L446.62,367.99 L449.07,368.27 L451.48,368.37 L453.8,368.95 L456,369.63 L458.13,371.6 L460.23,372.1 L462.37,374.42 L464.55,375.2 L466.77,375.23 L469.03,376.03 L471.34,376.89 L473.67,378.39 L476.04,377.67 L478.42,377.64 L480.81,378.63 L483.21,379.11 L485.58,378.87 L487.94,380.49 L490.28,380.25 L492.59,380.97 L494.88,380.93 L497.15,382.16 L499.41,382.91 L501.67,382.49 L503.92,384.89 L506.18,384.48 L508.44,386.41 L510.71,386.3 L512.99,389.29 L515.28,388.91 L517.59,389.93 L519.91,390.59 L522.23,389.66 L524.58,389.52 L526.93,391.35 L529.29,392.67 L531.66,392.52 L534.04,393.41 L536.43,393.89 L538.82,392.44 L541.22,394.11 L543.6,395.76 L545.98,394.23 L548.33,393.55 L550.66,395.51 L552.95,395.97 L555.21,397.45 L557.43,397.27 L559.63,399.05 L561.81,398.13 L563.99,401.72 L566.19,403.31 L568.43,403.93 L570.69,402.23 L572.99,404.49 L575.32,402.1 L577.67,405.52 L580.04,405.65 L582.41,405.21 L584.79,406.87 L587.17,407.1 L589.54,408.32 L591.89,408.03 L594.24,408.67 L596.57,407.09 L598.9,408.45 L601.22,409.73 L603.54,411.12 L605.85,411.43 L608.18,413.54 L610.5,411.75 L612.84,412.93 L615.18,413.96 L617.52,413.98 L619.87,415.19 L622.23,414.6 L624.58,417.04 L626.95,415.74 L629.31,417.61 L631.67,416.88 L634.04,418.82 L636.4,416.35 L638.76,418.68 L641.12,418.15 L643.48,419.26 L645.83,420.69 L648.17,418.85 L650.51,419.21 L652.84,420.11 L655.16,421.99 L657.48,420.55 L659.78,423.29 L662.07,422.71 L664.36,423.67 L666.65,425.19 L668.97,426.55 L671.31,425.94 L673.69,426.23 L676.1,426.6 L678.52,426.17 L680.93,423.58 L683.31,425.78 L685.63,426.51 L687.9,428.05 L690.11,429.82 L692.28,429.49 L694.42,430.12 L696.55,430.42 L698.66,432.86 L700.79,434.94 L702.94,436.74 L705.12,435.79 L707.34,437.91 L709.63,439.25 L711.98,440.74 L714.42,439.23 L716.95,438.09 L719.59,437.11 L722.05,436.29 L724,434.85" fill="none" stroke="#ffd508" stroke-width="3.9" stroke-linejoin="round" stroke-linecap="round"/>
<path d="M94.2,194.5 L94.2,196.02 L94.2,197.54 L94.22,199.05 L94.24,200.56 L94.28,202.06 L94.32,203.56 L94.38,205.06 L94.44,206.56 L94.51,208.06 L94.58,209.55 L94.67,211.04 L94.76,212.53 L94.85,214.02 L94.96,215.5 L95.06,216.99 L95.18,218.47 L95.29,219.96 L95.41,221.44 L95.54,222.93 L95.66,224.41 L95.79,225.9 L95.93,227.38 L96.06,228.87 L96.2,230.36 L96.33,231.85 L96.47,233.34 L96.61,234.84 L96.74,236.34 L96.88,237.84 L97.01,239.34 L97.15,240.84 L97.28,242.35 L97.41,243.87 L97.53,245.38 L97.65,246.9 L97.78,248.42 L97.9,249.95 L98.02,251.47 L98.15,252.99 L98.29,254.5 L98.43,256.01 L98.58,257.52 L98.74,259.01 L98.92,260.5 L99.11,261.97 L99.32,263.43 L99.54,264.88 L99.78,266.31 L100.05,267.72 L100.34,269.12 L100.67,270.52 L101.05,271.94 L101.49,273.38 L101.99,274.87 L102.59,276.4 L103.3,277.86 L104.2,279.03 L105.36,279.63 L106.74,279.59 L108.19,279.18 L109.57,278.59 L110.8,277.89 L111.89,277.09 L112.88,276.2 L113.83,275.23 L114.77,274.2 L115.73,273.14 L116.73,272.06 L117.76,271.02 L118.82,270 L119.91,269 L121.01,268.01 L122.13,267.03 L123.27,266.06 L124.4,265.1 L125.56,264.15 L126.72,263.23 L127.9,262.34 L129.1,261.47 L130.32,260.63 L131.56,259.82 L132.83,259.04 L134.13,258.3 L135.44,257.58 L136.78,256.9 L138.14,256.25 L139.52,255.63 L140.92,255.03 L142.34,254.46 L143.77,253.91 L145.2,253.36 L146.64,252.83 L148.07,252.3 L149.51,251.77 L150.93,251.24 L152.33,250.7 L153.73,250.15 L155.1,249.6 L156.47,249.04 L157.83,248.47 L159.18,247.91 L160.54,247.34 L161.9,246.78 L163.26,246.23 L164.64,245.69 L166.04,245.17 L167.44,244.66 L168.87,244.17 L170.3,243.7 L171.74,243.24 L173.19,242.8 L174.64,242.37 L176.1,241.96 L177.56,241.55 L179.02,241.15 L180.47,240.76 L181.93,240.37 L183.38,239.97 L184.83,239.58 L186.28,239.19 L187.73,238.79 L189.17,238.39 L190.61,237.99 L192.05,237.59 L193.49,237.19 L194.92,236.79 L196.36,236.39 L197.8,236 L199.24,235.62 L200.69,235.25 L202.14,234.88 L203.59,234.53 L205.05,234.19 L206.52,233.86 L207.99,233.54 L209.46,233.23 L210.94,232.94 L212.41,232.65 L213.89,232.37 L215.37,232.1 L216.85,231.84 L218.33,231.57 L219.81,231.31 L221.29,231.06 L222.76,230.8 L224.24,230.55 L225.72,230.3 L227.2,230.05 L228.68,229.81 L230.17,229.58 L231.65,229.35 L233.13,229.13 L234.61,228.92 L236.09,228.73 L237.57,228.56 L239.05,228.4 L240.53,228.26 L242.01,228.11 L243.5,227.97 L244.98,227.86 L246.47,227.78 L247.97,227.72 L249.48,227.66 L251,227.59 L252.53,227.49 L254.08,227.37 L255.61,227.28 L257.12,227.28 L258.6,227.43 L260,227.67 L261.34,228.06 L262.59,228.64 L263.74,229.37 L264.8,230.24 L265.75,231.24 L266.61,232.35 L267.37,233.58 L268.03,234.9 L268.61,236.27 L269.12,237.68 L269.59,239.11 L270.02,240.55 L270.45,242 L270.89,243.45 L271.34,244.89 L271.78,246.33 L272.22,247.77 L272.64,249.21 L273.04,250.65 L273.39,252.1 L273.7,253.56 L273.98,255.02 L274.29,256.48 L274.72,257.91 L275.36,259.3 L276.27,260.56 L277.37,261.35 L278.48,261.26 L279.56,260.33 L280.68,259.04 L281.93,257.89 L283.32,257.16 L284.78,256.93 L286.19,257.17 L287.52,257.81 L288.72,258.74 L289.82,259.84 L290.81,261.04 L291.71,262.27 L292.52,263.53 L293.28,264.81 L293.99,266.12 L294.67,267.45 L295.34,268.78 L296,270.13 L296.66,271.49 L297.31,272.85 L297.95,274.21 L298.58,275.58 L299.2,276.94 L299.8,278.3 L300.47,279.85 L301.34,281.79 L302.37,283.93 L303.55,286.07 L304.98,288.17 L306.69,289.93 L308.69,290.92 L310.91,290.86 L313.19,290 L315.39,288.9 L317.58,287.91 L319.87,287.29 L322.26,287.15 L324.63,287.54 L326.9,288.19 L329.03,289.58 L331.04,290.66 L332.93,292.26 L334.76,293.71 L336.56,295.22 L338.37,296.97 L340.2,298.49 L342.05,300.03 L343.9,301.65 L345.75,303.06 L347.61,304.73 L349.53,306.18 L351.57,307.28 L353.74,308.27 L356,309.21 L358.3,309.88 L360.58,310.68 L362.83,311.04 L365.07,312.35 L367.31,313.28 L369.56,314 L371.82,314.9 L374.09,316.06 L376.33,316.48 L378.56,317.53 L380.75,318.13 L382.92,319.14 L385.09,320.26 L387.28,321.09 L389.48,322.31 L391.71,322.91 L393.96,323.97 L396.22,324.39 L398.47,325.14 L400.72,326.31 L402.97,327.04 L405.22,328.05 L407.48,328.88 L409.75,329.71 L412.06,330.87 L414.41,331.49 L416.78,331.61 L419.16,331.47 L421.55,332.58 L423.91,331.64 L426.25,331.9 L428.56,333.56 L430.85,334.14 L433.14,334.82 L435.43,335.63 L437.75,335.46 L440.08,336.31 L442.42,338.15 L444.76,338.65 L447.05,338.36 L449.3,340.66 L451.47,339.91 L453.58,341.31 L455.65,343.04 L457.71,343.39 L459.78,345.05 L461.89,346.41 L464.03,347.35 L466.2,349.19 L468.4,349.97 L470.62,349.76 L472.86,350.92 L475.12,352.35 L477.4,352.98 L479.69,353.18 L482.01,354.67 L484.35,355.46 L486.72,354.72 L489.1,356.03 L491.5,354.28 L493.91,354.33 L496.33,356.06 L498.73,355.05 L501.13,355.03 L503.51,355.86 L505.87,355.85 L508.2,357.22 L510.5,356.28 L512.78,357.98 L515.04,362.03 L517.27,360.19 L519.49,359.29 L521.69,362.68 L523.87,363.7 L526.05,365.57 L528.23,365.41 L530.42,365.59 L532.63,368.55 L534.87,368.65 L537.15,366.73 L539.47,369.91 L541.82,369.34 L544.19,371.16 L546.57,369.91 L548.97,371.49 L551.36,371.17 L553.75,371.96 L556.13,371.67 L558.49,371.69 L560.82,372.82 L563.13,374.14 L565.42,374.61 L567.71,376.79 L570,376.06 L572.31,376.96 L574.65,379.35 L577.01,377.28 L579.38,378.32 L581.75,377.28 L584.11,378.56 L586.45,381.19 L588.76,380.06 L591.03,382.35 L593.27,379.81 L595.49,380.27 L597.7,383.57 L599.93,382.13 L602.17,388.59 L604.45,387.26 L606.77,384.28 L609.13,386.17 L611.51,385.86 L613.91,387.42 L616.34,386.86 L618.77,388.29 L621.22,389.05 L623.67,386.69 L626.11,385.36 L628.55,387.81 L630.99,386.85 L633.4,388.78 L635.8,387.12 L638.18,388.73 L640.54,388.35 L642.86,388.03 L645.16,388.19 L647.42,390.46 L649.65,393.76 L651.86,392.25 L654.06,391.85 L656.26,394.07 L658.46,394.35 L660.67,393.58 L662.9,397 L665.15,399.87 L667.42,398.25 L669.71,397.88 L672.01,400.59 L674.34,402.51 L676.67,400.89 L679.02,400.34 L681.35,401.43 L683.66,400 L685.94,398.7 L688.17,397.89 L690.38,399.26 L692.59,400.02 L694.82,402.48 L697.08,401.02 L699.39,405.11 L701.74,403.52 L704.14,402.87 L706.57,404.48 L709.01,400.2 L711.46,401.63 L713.91,401.57 L716.34,403.39 L718.75,401.42 L721.12,404.16 L723.01,401.72 L724,403.23" fill="none" stroke="#8a8dc8" stroke-width="3.9" stroke-linejoin="round" stroke-linecap="round"/>
<path d="M94.2,121.5 L94.19,122.94 L94.19,124.38 L94.21,125.84 L94.23,127.3 L94.26,128.78 L94.3,130.27 L94.36,131.77 L94.42,133.27 L94.49,134.78 L94.57,136.3 L94.65,137.83 L94.74,139.36 L94.84,140.89 L94.95,142.43 L95.06,143.97 L95.18,145.51 L95.3,147.06 L95.43,148.6 L95.56,150.15 L95.69,151.69 L95.83,153.23 L95.97,154.77 L96.11,156.31 L96.25,157.84 L96.39,159.37 L96.54,160.89 L96.68,162.41 L96.83,163.92 L96.97,165.42 L97.12,166.91 L97.26,168.4 L97.4,169.87 L97.54,171.33 L97.67,172.79 L97.8,174.23 L97.93,175.65 L98.05,177.07 L98.17,178.46 L98.29,179.85 L98.4,181.22 L98.51,182.58 L98.62,183.94 L98.75,185.31 L98.9,186.69 L99.07,188.1 L99.27,189.54 L99.5,191.01 L99.78,192.54 L100.11,194.11 L100.49,195.76 L100.93,197.47 L101.44,199.23 L102.03,200.95 L102.74,202.43 L103.6,203.45 L104.63,203.81 L105.81,203.47 L107.08,202.62 L108.34,201.55 L109.54,200.45 L110.65,199.37 L111.68,198.31 L112.66,197.28 L113.6,196.26 L114.53,195.26 L115.46,194.29 L116.41,193.33 L117.41,192.41 L118.47,191.53 L119.58,190.68 L120.76,189.84 L121.97,189.01 L123.23,188.18 L124.53,187.36 L125.85,186.56 L127.19,185.79 L128.55,185.03 L129.92,184.29 L131.29,183.56 L132.66,182.84 L134.01,182.14 L135.36,181.44 L136.71,180.75 L138.05,180.07 L139.38,179.39 L140.72,178.72 L142.05,178.05 L143.39,177.39 L144.72,176.73 L146.06,176.08 L147.41,175.43 L148.76,174.78 L150.11,174.15 L151.47,173.52 L152.83,172.89 L154.19,172.28 L155.56,171.68 L156.94,171.09 L158.32,170.51 L159.71,169.95 L161.11,169.39 L162.51,168.85 L163.92,168.32 L165.33,167.8 L166.74,167.28 L168.16,166.78 L169.59,166.29 L171.01,165.81 L172.44,165.33 L173.87,164.86 L175.3,164.39 L176.73,163.93 L178.16,163.47 L179.59,163.01 L181.01,162.56 L182.44,162.12 L183.87,161.68 L185.3,161.24 L186.74,160.81 L188.17,160.39 L189.61,159.97 L191.05,159.56 L192.5,159.15 L193.95,158.76 L195.4,158.37 L196.85,157.99 L198.3,157.61 L199.76,157.24 L201.21,156.88 L202.67,156.52 L204.13,156.17 L205.59,155.83 L207.05,155.49 L208.52,155.15 L209.98,154.83 L211.44,154.51 L212.91,154.2 L214.37,153.89 L215.84,153.59 L217.31,153.31 L218.79,153.03 L220.26,152.77 L221.74,152.51 L223.22,152.28 L224.7,152.05 L226.18,151.85 L227.67,151.66 L229.16,151.49 L230.65,151.35 L232.14,151.23 L233.64,151.13 L235.14,151.06 L236.64,151.02 L238.14,151.01 L239.64,151.04 L241.15,151.08 L242.64,151.11 L244.14,151.14 L245.63,151.19 L247.11,151.28 L248.59,151.43 L250.07,151.67 L251.55,151.98 L253.02,152.34 L254.47,152.76 L255.88,153.28 L257.23,153.9 L258.51,154.63 L259.73,155.43 L260.88,156.28 L261.97,157.18 L263.02,158.15 L264.03,159.16 L265.01,160.21 L265.96,161.3 L266.89,162.43 L267.79,163.6 L268.68,164.82 L269.54,166.04 L270.38,167.28 L271.2,168.52 L271.99,169.79 L272.77,171.06 L273.52,172.35 L274.26,173.66 L274.98,174.97 L275.68,176.3 L276.37,177.63 L277.04,178.98 L277.71,180.33 L278.36,181.68 L279,183.04 L279.64,184.4 L280.27,185.77 L280.89,187.13 L281.51,188.5 L282.13,189.86 L282.74,191.23 L283.35,192.6 L283.97,193.97 L284.58,195.33 L285.2,196.7 L285.83,198.06 L286.45,199.42 L287.08,200.78 L287.7,202.14 L288.33,203.5 L288.95,204.87 L289.57,206.23 L290.19,207.6 L290.8,208.98 L291.4,210.36 L292.01,211.74 L292.6,213.13 L293.2,214.51 L293.8,215.89 L294.41,217.26 L295.02,218.63 L295.65,219.98 L296.29,221.31 L296.95,222.63 L297.66,223.93 L298.42,225.22 L299.27,226.48 L300.39,227.89 L302.01,229.43 L304.03,230.56 L306.25,230.8 L308.58,230.26 L310.89,229.33 L313.11,228.31 L315.28,227.35 L317.47,226.52 L319.73,225.7 L322.06,225.05 L324.44,224.65 L326.85,224.49 L329.26,224.46 L331.63,224.96 L333.95,225.43 L336.2,226.26 L338.39,227.29 L340.53,228.25 L342.62,229.48 L344.69,230.89 L346.75,232.12 L348.79,233.24 L350.82,234.86 L352.81,235.72 L354.74,237.29 L356.6,238.81 L358.4,239.94 L360.14,242.45 L361.85,243.85 L363.56,245.26 L365.28,247.58 L367.02,248.93 L368.79,250.53 L370.57,251.9 L372.37,253.65 L374.17,254.84 L376,256.97 L377.85,258.2 L379.74,259.81 L381.68,261.52 L383.68,262.6 L385.74,263.84 L387.85,264.98 L390.02,265.69 L392.23,267.12 L394.48,268.21 L396.76,268.74 L399.06,269.48 L401.39,269.42 L403.75,269.84 L406.13,269.89 L408.53,271.08 L410.93,270.51 L413.34,271.14 L415.73,270.08 L418.13,270.1 L420.53,270.26 L422.94,270.66 L425.34,270.39 L427.73,270.73 L430.1,271.04 L432.43,271.68 L434.73,271.66 L437.03,272.99 L439.34,273.54 L441.64,274.33 L443.88,275.47 L446.05,275.77 L448.15,277.28 L450.19,278.41 L452.23,280.13 L454.31,281.58 L456.45,281.55 L458.63,283.54 L460.83,285.51 L463,284.15 L465.15,285.64 L467.29,286.69 L469.41,288.24 L471.53,290.75 L473.65,290.71 L475.78,291.3 L477.92,293.37 L480.09,293.46 L482.28,295.77 L484.51,296.02 L486.76,297.71 L489.05,296.78 L491.36,300.53 L493.68,299.31 L496.03,299.73 L498.38,299.63 L500.75,299.48 L503.12,299.73 L505.5,300.72 L507.88,300.34 L510.27,301.51 L512.66,300.51 L515.06,301.9 L517.45,302.17 L519.85,300.41 L522.25,302.21 L524.65,300.62 L527.05,301.97 L529.45,301.15 L531.86,301.88 L534.27,299.65 L536.67,300.78 L539.07,302.81 L541.43,300.93 L543.76,299.93 L546.02,300.87 L548.22,301.27 L550.34,302.97 L552.44,306.33 L554.54,309.63 L556.68,308.56 L558.91,310.13 L561.25,309.76 L563.65,309.74 L566.04,309.36 L568.32,309.56 L570.47,311.1 L572.51,310.11 L574.47,314.48 L576.42,315.96 L578.4,316.03 L580.44,318.8 L582.58,317.87 L584.81,319.01 L587.09,320.71 L589.42,320.83 L591.77,320.98 L594.12,321.15 L596.48,321.79 L598.83,324.51 L601.17,320.71 L603.5,324.73 L605.81,324.49 L608.1,326.67 L610.35,327.19 L612.58,323.19 L614.8,329.23 L617.01,329.81 L619.24,330.24 L621.49,330.23 L623.78,332.73 L626.11,331.13 L628.48,334.62 L630.87,332.69 L633.29,334.94 L635.72,330.38 L638.16,328.76 L640.59,332.34 L643.01,332.51 L645.42,331.37 L647.8,329.24 L650.17,331.22 L652.53,333.25 L654.89,332.51 L657.25,333.08 L659.62,333.41 L662.01,332.62 L664.4,333.54 L666.79,332.51 L669.15,337.69 L671.49,334.82 L673.78,336.9 L676.03,335.45 L678.25,339.08 L680.46,336.04 L682.67,341.18 L684.91,340.63 L687.17,344.64 L689.47,340.2 L691.79,342.87 L694.13,343.85 L696.49,345.64 L698.85,343.64 L701.21,344.88 L703.57,342.03 L705.91,344.52 L708.24,347.01 L710.56,348.6 L712.85,347.21 L715.12,351.48 L717.36,351.88 L719.56,350.1 L721.72,347.64 L723.36,349.47 L724,351.33" fill="none" stroke="#e56462" stroke-width="3.9" stroke-linejoin="round" stroke-linecap="round"/>
</g>
<line x1="189.45" y1="141.9" x2="189.45" y2="460" stroke="#808080" stroke-width="2.8" stroke-dasharray="5.2 6.3"/>
<polygon points="181.9,461.5 197.1,461.5 189.5,489.8" fill="#808080"/>
<text transform="translate(93.2 727) scale(1 1.01)" font-family='"Liberation Sans", sans-serif' font-size="50" text-anchor="middle" fill="#000" stroke="#000" stroke-width="0.5" stroke-linejoin="round">0.0</text>
<text transform="translate(219.36 727) scale(1 1.01)" font-family='"Liberation Sans", sans-serif' font-size="50" text-anchor="middle" fill="#000" stroke="#000" stroke-width="0.5" stroke-linejoin="round">0.5</text>
<text transform="translate(345.52 727) scale(1 1.01)" font-family='"Liberation Sans", sans-serif' font-size="50" text-anchor="middle" fill="#000" stroke="#000" stroke-width="0.5" stroke-linejoin="round">1.0</text>
<text transform="translate(471.68 727) scale(1 1.01)" font-family='"Liberation Sans", sans-serif' font-size="50" text-anchor="middle" fill="#000" stroke="#000" stroke-width="0.5" stroke-linejoin="round">1.5</text>
<text transform="translate(597.84 727) scale(1 1.01)" font-family='"Liberation Sans", sans-serif' font-size="50" text-anchor="middle" fill="#000" stroke="#000" stroke-width="0.5" stroke-linejoin="round">2.0</text>
<text transform="translate(724 727) scale(1 1.01)" font-family='"Liberation Sans", sans-serif' font-size="50" text-anchor="middle" fill="#000" stroke="#000" stroke-width="0.5" stroke-linejoin="round">2.5</text>
<text transform="translate(315.3 792)" font-family='"Liberation Sans", sans-serif' font-size="55.6" fill="#000" stroke="#000" stroke-width="0.4" stroke-linejoin="round">2θ (deg)</text>
<text transform="translate(43.3 540.7) rotate(-90)" font-family='"Liberation Sans", sans-serif' font-size="54" fill="#000" stroke="#000" stroke-width="0.4" stroke-linejoin="round">Intensity (a.u.)</text>
<text transform="translate(116.3 118.7) scale(1 1.015)" font-family='"Liberation Sans", sans-serif' font-size="55" fill="#000" stroke="#000" stroke-width="0.3" stroke-linejoin="round">T=580°C</text>
<text transform="translate(110 571.4) scale(1 1.01)" font-family='"Liberation Sans", sans-serif' font-size="55" fill="#000" stroke="#000" stroke-width="0.3" stroke-linejoin="round">T=455°C</text>
<text transform="translate(304.2 190)" font-family='"Liberation Sans", sans-serif' font-size="55" fill="#000" stroke="#000" stroke-width="0.3" stroke-linejoin="round"><tspan font-family='"Liberation Serif", serif' font-size="54">Δ</tspan><tspan dx="-1">T=25°C</tspan></text>
<text transform="translate(-2.3 40) scale(1 1.02)" font-family='"Liberation Sans", sans-serif' font-size="54" font-weight="bold" fill="#c00000" >(a)</text>
</g>
<g id="plot-b">
<rect x="959.3" y="58.6" width="189.2" height="618.9" fill="#e6e6e6"/>
<rect x="1146.85" y="58.6" width="195.15" height="618.9" fill="#9fd3d7"/>
<rect x="1340.6" y="58.6" width="236.4" height="618.9" fill="#cecfee"/>
<path d="M959.3,60.6 H1568.5 M959.3,674.9 H1568.5 M959.3,60.6 V674.9 M1568.5,60.6 V675.2" fill="none" stroke="#000" stroke-width="4.1"/>
<line x1="959.3" y1="490.23" x2="968.3" y2="490.23" stroke="#000" stroke-width="4.1" />
<line x1="959.3" y1="305.3" x2="968.3" y2="305.3" stroke="#000" stroke-width="4.1" />
<line x1="959.3" y1="197.13" x2="968.3" y2="197.13" stroke="#000" stroke-width="4.1" />
<line x1="959.3" y1="120.38" x2="968.3" y2="120.38" stroke="#000" stroke-width="4.1" />
<line x1="959.3" y1="462.12" x2="963.8" y2="462.12" stroke="#000" stroke-width="3.9" />
<line x1="959.3" y1="436.69" x2="963.8" y2="436.69" stroke="#000" stroke-width="3.9" />
<line x1="959.3" y1="413.48" x2="963.8" y2="413.48" stroke="#000" stroke-width="3.9" />
<line x1="959.3" y1="392.12" x2="963.8" y2="392.12" stroke="#000" stroke-width="3.9" />
<line x1="959.3" y1="372.35" x2="963.8" y2="372.35" stroke="#000" stroke-width="3.9" />
<line x1="959.3" y1="353.95" x2="963.8" y2="353.95" stroke="#000" stroke-width="3.9" />
<line x1="959.3" y1="336.73" x2="963.8" y2="336.73" stroke="#000" stroke-width="3.9" />
<line x1="959.3" y1="320.55" x2="963.8" y2="320.55" stroke="#000" stroke-width="3.9" />
<line x1="959.3" y1="290.88" x2="963.8" y2="290.88" stroke="#000" stroke-width="3.9" />
<line x1="959.3" y1="277.2" x2="963.8" y2="277.2" stroke="#000" stroke-width="3.9" />
<line x1="959.3" y1="264.18" x2="963.8" y2="264.18" stroke="#000" stroke-width="3.9" />
<line x1="959.3" y1="251.77" x2="963.8" y2="251.77" stroke="#000" stroke-width="3.9" />
<line x1="959.3" y1="239.91" x2="963.8" y2="239.91" stroke="#000" stroke-width="3.9" />
<line x1="959.3" y1="228.55" x2="963.8" y2="228.55" stroke="#000" stroke-width="3.9" />
<line x1="959.3" y1="217.66" x2="963.8" y2="217.66" stroke="#000" stroke-width="3.9" />
<line x1="959.3" y1="207.2" x2="963.8" y2="207.2" stroke="#000" stroke-width="3.9" />
<line x1="959.3" y1="187.43" x2="963.8" y2="187.43" stroke="#000" stroke-width="3.9" />
<line x1="959.3" y1="178.07" x2="963.8" y2="178.07" stroke="#000" stroke-width="3.9" />
<line x1="959.3" y1="169.02" x2="963.8" y2="169.02" stroke="#000" stroke-width="3.9" />
<line x1="959.3" y1="160.27" x2="963.8" y2="160.27" stroke="#000" stroke-width="3.9" />
<line x1="959.3" y1="151.8" x2="963.8" y2="151.8" stroke="#000" stroke-width="3.9" />
<line x1="959.3" y1="143.6" x2="963.8" y2="143.6" stroke="#000" stroke-width="3.9" />
<line x1="959.3" y1="135.63" x2="963.8" y2="135.63" stroke="#000" stroke-width="3.9" />
<line x1="959.3" y1="127.9" x2="963.8" y2="127.9" stroke="#000" stroke-width="3.9" />
<line x1="959.3" y1="113.07" x2="963.8" y2="113.07" stroke="#000" stroke-width="3.9" />
<line x1="959.3" y1="105.96" x2="963.8" y2="105.96" stroke="#000" stroke-width="3.9" />
<line x1="959.3" y1="99.03" x2="963.8" y2="99.03" stroke="#000" stroke-width="3.9" />
<line x1="959.3" y1="92.27" x2="963.8" y2="92.27" stroke="#000" stroke-width="3.9" />
<line x1="959.3" y1="85.69" x2="963.8" y2="85.69" stroke="#000" stroke-width="3.9" />
<line x1="959.3" y1="79.26" x2="963.8" y2="79.26" stroke="#000" stroke-width="3.9" />
<line x1="959.3" y1="72.98" x2="963.8" y2="72.98" stroke="#000" stroke-width="3.9" />
<line x1="959.3" y1="66.85" x2="963.8" y2="66.85" stroke="#000" stroke-width="3.9" />
<line x1="959.3" y1="521.65" x2="963.8" y2="521.65" stroke="#000" stroke-width="3.9" />
<line x1="959.3" y1="557.27" x2="963.8" y2="557.27" stroke="#000" stroke-width="3.9" />
<line x1="959.3" y1="598.4" x2="963.8" y2="598.4" stroke="#000" stroke-width="3.9" />
<line x1="959.3" y1="647.04" x2="963.8" y2="647.04" stroke="#000" stroke-width="3.9" />
<line x1="1081.14" y1="674.9" x2="1081.14" y2="665.8" stroke="#000" stroke-width="4" />
<line x1="1081.14" y1="60.6" x2="1081.14" y2="69.6" stroke="#000" stroke-width="4" />
<line x1="1324.82" y1="674.9" x2="1324.82" y2="665.8" stroke="#000" stroke-width="4" />
<line x1="1324.82" y1="60.6" x2="1324.82" y2="69.6" stroke="#000" stroke-width="4" />
<line x1="1202.98" y1="674.9" x2="1202.98" y2="671" stroke="#000" stroke-width="4" />
<line x1="1202.98" y1="60.6" x2="1202.98" y2="65" stroke="#000" stroke-width="4" />
<line x1="1446.66" y1="674.9" x2="1446.66" y2="671" stroke="#000" stroke-width="4" />
<line x1="1446.66" y1="60.6" x2="1446.66" y2="65" stroke="#000" stroke-width="4" />
<circle cx="1013.4" cy="645" r="9.9" fill="#ff0080"/>
<circle cx="1013.4" cy="567" r="9.9" fill="#ff0080"/>
<circle cx="1099.6" cy="549.6" r="9.9" fill="#ff0080"/>
<circle cx="1099.6" cy="556.4" r="9.9" fill="#ff0080"/>
<circle cx="1191.25" cy="247.5" r="9.9" fill="#ff0080"/>
<circle cx="1191.25" cy="279.6" r="9.9" fill="#ff0080"/>
<circle cx="1191.25" cy="333.1" r="9.9" fill="#ff0080"/>
<circle cx="1288.9" cy="291.9" r="9.9" fill="#ff0080"/>
<circle cx="1288.9" cy="318.1" r="9.9" fill="#ff0080"/>
<circle cx="1288.9" cy="330.4" r="9.9" fill="#ff0080"/>
<circle cx="1288.9" cy="348.75" r="9.9" fill="#ff0080"/>
<circle cx="1393.1" cy="364.4" r="9.9" fill="#ff0080"/>
<circle cx="1393.1" cy="381.9" r="9.9" fill="#ff0080"/>
<circle cx="1393.1" cy="411.9" r="9.9" fill="#ff0080"/>
<circle cx="1393.1" cy="416.2" r="9.9" fill="#ff0080"/>
<circle cx="1504.1" cy="450.25" r="9.9" fill="#ff0080"/>
<circle cx="1504.1" cy="485" r="9.9" fill="#ff0080"/>
<path d="M1185.03,315.71 L1179.57,325.49 M1171.17,340.55 L1165.71,350.33 M1157.31,365.39 L1151.85,375.17 M1143.45,390.23 L1137.99,400.01 M1129.59,415.07 L1124.13,424.85 M1115.73,439.91 L1110.27,449.69 M1101.87,464.75 L1096.41,474.53 M1088.01,489.59 L1082.55,499.37 M1074.15,514.43 L1068.69,524.21 M1060.29,539.27 L1054.83,549.05 M1046.43,564.11 L1040.97,573.89 M1032.57,588.95 L1027.11,598.73 M1018.71,613.79 L1013.25,623.57" fill="none" stroke="#000" stroke-width="4.4"/>
<path d="M1187.73,306.68 L1190.73,309.68 M1173.37,333.02 L1177.37,333.02 M1160.01,356.36 L1163.01,359.36 M1146.15,381.2 L1149.15,384.2 M1131.79,407.54 L1135.79,407.54 M1118.43,430.88 L1121.43,433.88 M1104.57,455.72 L1107.57,458.72 M1090.21,482.06 L1094.21,482.06 M1076.85,505.4 L1079.85,508.4 M1062.99,530.24 L1065.99,533.24 M1048.63,556.58 L1052.63,556.58 M1035.27,579.92 L1038.27,582.92 M1020.91,606.26 L1024.91,606.26" fill="none" stroke="#1a1a1a" stroke-width="0.9" stroke-opacity="0.8"/>
<path d="M1189.86,303.71 L1200.94,305.29 M1217.56,307.68 L1228.64,309.26 M1245.26,311.65 L1256.34,313.23 M1272.96,315.62 L1284.04,317.2" fill="none" stroke="#000" stroke-width="4.4"/>
<path d="M1209.25,304.49 L1209.25,308.49 M1236.95,308.45 L1236.95,312.45 M1263.15,315.93 L1266.15,312.93" fill="none" stroke="#1a1a1a" stroke-width="0.9" stroke-opacity="0.8"/>
<path d="M1293.2,319.36 L1302.46,325.68 M1316.62,335.34 L1325.88,341.66 M1340.04,351.32 L1349.3,357.64 M1363.46,367.3 L1372.72,373.62 M1386.88,383.28 L1396.14,389.6 M1410.3,399.26 L1419.56,405.58 M1433.72,415.24 L1442.98,421.56 M1457.14,431.22 L1466.4,437.54 M1480.56,447.2 L1489.82,453.52" fill="none" stroke="#000" stroke-width="4.4"/>
<path d="M1309.54,328.51 L1309.54,332.51 M1331.46,347.99 L1334.46,344.99 M1354.88,363.97 L1357.88,360.97 M1379.8,376.45 L1379.8,380.45 M1401.72,395.93 L1404.72,392.93 M1425.14,411.91 L1428.14,408.91 M1450.06,424.39 L1450.06,428.39 M1471.98,443.87 L1474.98,440.87 M1495.4,459.85 L1498.4,456.85" fill="none" stroke="#1a1a1a" stroke-width="0.9" stroke-opacity="0.8"/>
<path d="M1503.9,463.4 L1512.3,469.1" fill="none" stroke="#000" stroke-width="4.4"/>
<circle cx="1289" cy="120.25" r="9.8" fill="#2244ff"/>
<line x1="1373.75" y1="111.75" x2="1340" y2="118.5" stroke="#000" stroke-width="1.6" />
<polygon points="1316.25,123.25 1338.25,112.6 1343.25,124.2" fill="#000"/>
<text transform="translate(948.6 498.18) scale(1 1.04)" font-family='"Liberation Sans", sans-serif' font-size="48.2" text-anchor="end" fill="#000" stroke="#000" stroke-width="0.5" stroke-linejoin="round">100</text>
<text transform="translate(948.6 312.35) scale(1 1.04)" font-family='"Liberation Sans", sans-serif' font-size="48.2" text-anchor="end" fill="#000" stroke="#000" stroke-width="0.5" stroke-linejoin="round">200</text>
<text transform="translate(948.6 205.08) scale(1 1.04)" font-family='"Liberation Sans", sans-serif' font-size="48.2" text-anchor="end" fill="#000" stroke="#000" stroke-width="0.5" stroke-linejoin="round">300</text>
<text transform="translate(948.6 128.23) scale(1 1.04)" font-family='"Liberation Sans", sans-serif' font-size="48.2" text-anchor="end" fill="#000" stroke="#000" stroke-width="0.5" stroke-linejoin="round">400</text>
<text transform="translate(948.6 67.8) scale(1 1.04)" font-family='"Liberation Sans", sans-serif' font-size="48.2" text-anchor="end" fill="#000" stroke="#000" stroke-width="0.5" stroke-linejoin="round">500</text>
<text transform="translate(1081.44 722.9)" font-family='"Liberation Sans", sans-serif' font-size="48" text-anchor="middle" fill="#000" stroke="#000" stroke-width="0.5" stroke-linejoin="round">1.2</text>
<text transform="translate(1325.12 722.9)" font-family='"Liberation Sans", sans-serif' font-size="48" text-anchor="middle" fill="#000" stroke="#000" stroke-width="0.5" stroke-linejoin="round">1.3</text>
<text transform="translate(1568.8 722.9)" font-family='"Liberation Sans", sans-serif' font-size="48" text-anchor="middle" fill="#000" stroke="#000" stroke-width="0.5" stroke-linejoin="round">1.4</text>
<text transform="translate(1122.2 796.4) scale(1 1.04)" font-family='"Liberation Sans", sans-serif' font-size="54" fill="#000" stroke="#000" stroke-width="0.4" stroke-linejoin="round">1000/T (K<tspan font-size="33" dy="-24.6">-1</tspan><tspan dy="24.6">)</tspan></text>
<text transform="translate(849.4 627.4) rotate(-90)" font-family='"Liberation Sans", sans-serif' font-size="53.8" fill="#000" stroke="#000" stroke-width="0.4" stroke-linejoin="round">Grwoth Rate (nm/h)</text>
<text transform="translate(1229.7 102.5) scale(1 1.015)" font-family='"Liberation Sans", sans-serif' font-size="34" fill="#000" stroke="#000" stroke-width="0.45" stroke-linejoin="round">Precursor: Ga(acac)<tspan font-size="20" dy="12.5">3</tspan></text>
<text transform="translate(1297.2 633) scale(1 1.015)" font-family='"Liberation Sans", sans-serif' font-size="34" fill="#000" stroke="#000" stroke-width="0.45" stroke-linejoin="round">Precursor: GaCl<tspan font-size="20" dy="12.5">3</tspan></text>
<text transform="translate(1338.4 505) scale(1 1.03)" font-family='"Liberation Sans", sans-serif' font-size="36.4" fill="#000" stroke="#000" stroke-width="0.4" stroke-linejoin="round">Regime I</text>
<text transform="translate(1236.5 506.9) scale(1 1.04)" font-family='"Liberation Sans", sans-serif' font-size="36.8" fill="#000" stroke="#000" stroke-width="0.4" stroke-linejoin="round">II</text>
<text transform="translate(1106.3 510.3) scale(1 1.04)" font-family='"Liberation Sans", sans-serif' font-size="36.8" fill="#000" stroke="#000" stroke-width="0.4" stroke-linejoin="round">III</text>
<text transform="translate(1363 336.25)" font-family='"Liberation Serif", serif' font-size="34" fill="#000" >E<tspan font-size="20.5" dy="11.7">a</tspan><tspan dy="-11.7" dx="-1">=23.3 meV</tspan></text>
<text transform="translate(793 40) scale(1 1.02)" font-family='"Liberation Sans", sans-serif' font-size="54" font-weight="bold" fill="#c00000" >(b)</text>
</g>
</svg>
</body>
</html>
